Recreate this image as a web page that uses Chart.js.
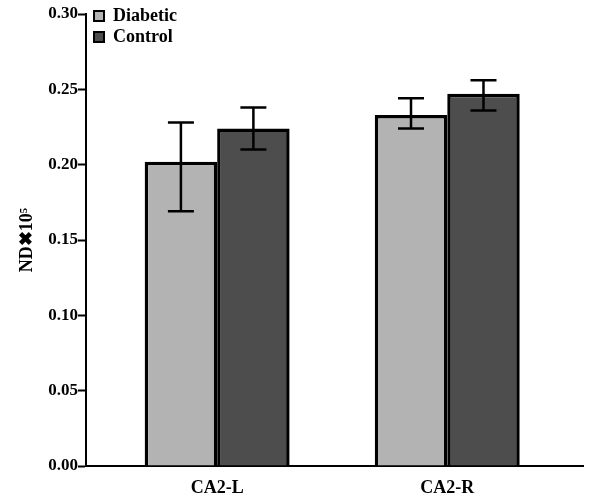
<!DOCTYPE html>
<html>
<head>
<meta charset="utf-8">
<script src="https://cdn.jsdelivr.net/npm/chart.js@4/dist/chart.umd.min.js"></script>
<style>
html,body{margin:0;padding:0;background:#fff;}
#wrap{width:589px;height:498px;}
</style>
</head>
<body>
<div id="wrap"><canvas id="c" width="589" height="498"></canvas></div>
<script>
const categories = ['CA2-L', 'CA2-R'];
const seriesNames = ['Diabetic', 'Control'];
const diabeticMean = [0.202, 0.233];
const diabeticHigh = [0.228, 0.244];
const diabeticLow  = [0.169, 0.224];
const controlMean  = [0.224, 0.247];
const controlHigh  = [0.238, 0.256];
const controlLow   = [0.210, 0.236];
const yTicks = [0.00, 0.05, 0.10, 0.15, 0.20, 0.25, 0.30];

const FONT = '"Liberation Serif", "Times New Roman", serif';

function pts(vals){ return vals.map((v,i)=>({x:i, y:v})); }

const errorBars = {
  id: 'errorBars',
  afterDatasetsDraw(chart){
    const ctx = chart.ctx, y = chart.scales.y;
    chart.data.datasets.forEach((ds, di) => {
      const meta = chart.getDatasetMeta(di);
      meta.data.forEach((bar, i) => {
        const x = bar.x, yh = y.getPixelForValue(ds.errHigh[i]), yl = y.getPixelForValue(ds.errLow[i]);
        ctx.save();
        ctx.strokeStyle = '#000'; ctx.lineWidth = 2.5; ctx.lineCap = 'butt';
        ctx.beginPath();
        ctx.moveTo(x, yh); ctx.lineTo(x, yl);
        ctx.moveTo(x-13, yh); ctx.lineTo(x+13, yh);
        ctx.moveTo(x-13, yl); ctx.lineTo(x+13, yl);
        ctx.stroke();
        ctx.restore();
      });
    });
  },
  afterLayout(chart){
    if (chart.legend) { chart.legend.top += 4; chart.legend.left += 5; }
  }
};

new Chart(document.getElementById('c'), {
  type: 'bar',
  data: {
    datasets: [
      { label: seriesNames[0], data: pts(diabeticMean), errHigh: diabeticHigh, errLow: diabeticLow,
        backgroundColor: '#b3b3b3', borderColor: '#000', borderWidth: 3.5, borderSkipped: 'bottom' },
      { label: seriesNames[1], data: pts(controlMean), errHigh: controlHigh, errLow: controlLow,
        backgroundColor: '#4d4d4d', borderColor: '#000', borderWidth: 3.5, borderSkipped: 'bottom' }
    ]
  },
  options: {
    responsive: false,
    animation: false,
    devicePixelRatio: 1,
    categoryPercentage: 0.63,
    barPercentage: 1.0,
    layout: { padding: { top: 14, right: 6, left: 0, bottom: 0 } },
    plugins: {
      tooltip: { enabled: false },
      legend: {
        position: 'chartArea',
        align: 'start',
        labels: {
          color: '#000',
          font: { family: FONT, size: 18, weight: 'bold' },
          boxWidth: 10, boxHeight: 10, padding: 3,
          generateLabels(chart){
            return chart.data.datasets.map((ds, i) => ({
              text: ds.label, fillStyle: ds.backgroundColor, strokeStyle: '#000',
              lineWidth: 2, hidden: false, datasetIndex: i, fontColor: '#000'
            }));
          }
        }
      }
    },
    scales: {
      x: {
        type: 'linear',
        offset: false,
        min: -0.57,
        max: 1.59,
        afterBuildTicks(s){ s.ticks = categories.map((c,i)=>({value:i})); },
        afterFit(s){ s.height = 32; },
        ticks: {
          color: '#000',
          font: { family: FONT, size: 18, weight: 'bold' },
          padding: 12,
          maxRotation: 0,
          callback: (v) => categories[v] ?? ''
        },
        grid: { display: true, offset: false, drawOnChartArea: false, drawTicks: false, tickLength: 0 },
        border: { display: true, color: '#000', width: 2 }
      },
      y: {
        min: 0, max: 0.30,
        afterBuildTicks(s){ s.ticks = yTicks.map(v=>({value:v})); },
        afterFit(s){ s.width = 86; },
        ticks: {
          color: '#000',
          font: { family: FONT, size: 17, weight: 'bold' },
          padding: 0,
          callback: (v) => Number(v).toFixed(2)
        },
        grid: { display: true, drawOnChartArea: false, drawTicks: true, tickLength: 8, tickColor: '#000', tickWidth: 2 },
        border: { display: true, color: '#000', width: 2 },
        title: {
          display: true,
          text: 'ND✖10⁵',
          color: '#000',
          font: { family: FONT, size: 18, weight: 'bold' },
          padding: { top: 17, bottom: 0 }
        }
      }
    }
  },
  plugins: [errorBars]
});
</script>
</body>
</html>
